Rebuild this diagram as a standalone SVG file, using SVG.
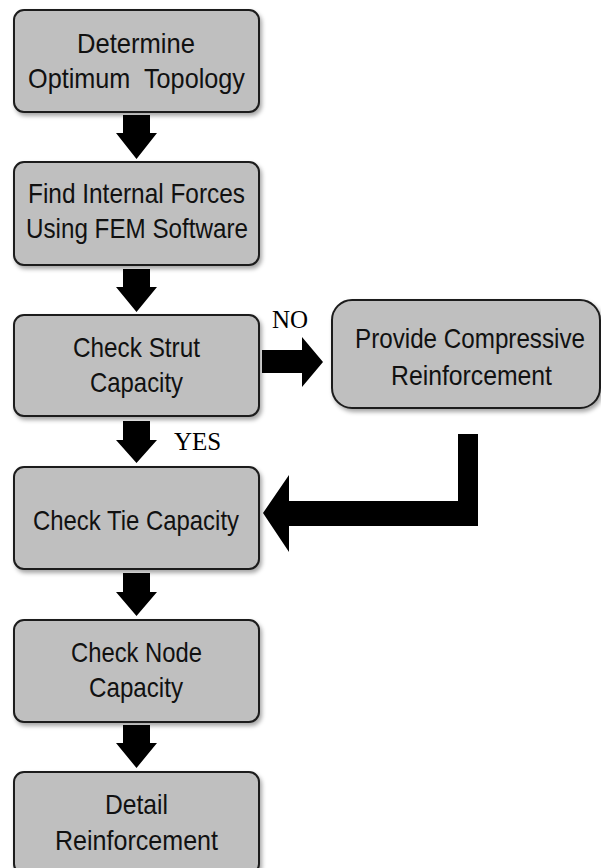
<svg xmlns="http://www.w3.org/2000/svg" width="601" height="868" viewBox="0 0 601 868">
  <defs>
    <filter id="sh" x="-10%" y="-10%" width="125%" height="130%">
      <feDropShadow dx="2" dy="3" stdDeviation="2" flood-color="#000" flood-opacity="0.35"/>
    </filter>
  </defs>
  <style>
    .box { fill: #bfbfbf; stroke: #1c1c1c; stroke-width: 2; filter: url(#sh); }
    .lbl { font-family: "Liberation Sans", Arial, sans-serif; font-size: 24.5px; fill: #111; white-space: pre; }
    .yn { font-family: "Liberation Serif", "Times New Roman", serif; font-size: 25px; fill: #000; }
    .arr { fill: #000; }
  </style>
  <rect width="601" height="868" fill="#fff"/>

  <g id="connectors">
    <polygon class="arr" points="123,115 150,115 150,133 157,133 136.5,159 116,133 123,133"/>
    <polygon class="arr" points="123,269 150,269 150,287 157,287 136.5,312 116,287 123,287"/>
    <polygon class="arr" points="123,421 150,421 150,440 157,440 136.5,463 116,440 123,440"/>
    <polygon class="arr" points="123,573 150,573 150,592 157,592 136.5,616 116,592 123,592"/>
    <polygon class="arr" points="123,725 150,725 150,743 157,743 136.5,768 116,743 123,743"/>
    <polygon class="arr" points="262,350 302,350 302,337 323,362 302,387 302,373 262,373"/>
    <polygon class="arr" points="458,434 478,434 478,526 289,526 289,552 263,513 289,475 289,501 458,501"/>
    <text class="yn" x="272" y="328">NO</text>
    <text class="yn" x="174" y="450">YES</text>
  </g>

  <g id="n1">
    <rect class="box" x="14" y="10" width="245" height="102" rx="10"/>
    <text class="lbl" transform="translate(77,53) scale(1,1.15)" textLength="118" lengthAdjust="spacingAndGlyphs">Determine</text>
    <text class="lbl" transform="translate(28,88) scale(1,1.15)" textLength="217" lengthAdjust="spacingAndGlyphs">Optimum  Topology</text>
  </g>
  <g id="n2">
    <rect class="box" x="14" y="162" width="245" height="103" rx="10"/>
    <text class="lbl" transform="translate(28,203) scale(1,1.15)" textLength="217" lengthAdjust="spacingAndGlyphs">Find Internal Forces</text>
    <text class="lbl" transform="translate(26,238) scale(1,1.15)" textLength="222" lengthAdjust="spacingAndGlyphs">Using FEM Software</text>
  </g>
  <g id="n3">
    <rect class="box" x="14" y="315" width="245" height="101" rx="10"/>
    <text class="lbl" transform="translate(73,357) scale(1,1.15)" textLength="127" lengthAdjust="spacingAndGlyphs">Check Strut</text>
    <text class="lbl" transform="translate(90,392) scale(1,1.15)" textLength="93" lengthAdjust="spacingAndGlyphs">Capacity</text>
  </g>
  <g id="n4">
    <rect class="box" x="332" y="300" width="268" height="108" rx="20"/>
    <text class="lbl" transform="translate(355,348) scale(1,1.15)" textLength="230" lengthAdjust="spacingAndGlyphs">Provide Compressive</text>
    <text class="lbl" transform="translate(391,385) scale(1,1.15)" textLength="161" lengthAdjust="spacingAndGlyphs">Reinforcement</text>
  </g>
  <g id="n5">
    <rect class="box" x="14" y="467" width="245" height="102" rx="10"/>
    <text class="lbl" transform="translate(33,530) scale(1,1.15)" textLength="206" lengthAdjust="spacingAndGlyphs">Check Tie Capacity</text>
  </g>
  <g id="n6">
    <rect class="box" x="14" y="620" width="245" height="102" rx="10"/>
    <text class="lbl" transform="translate(71,662) scale(1,1.15)" textLength="131" lengthAdjust="spacingAndGlyphs">Check Node</text>
    <text class="lbl" transform="translate(89,697) scale(1,1.15)" textLength="94" lengthAdjust="spacingAndGlyphs">Capacity</text>
  </g>
  <g id="n7">
    <rect class="box" x="14" y="772" width="245" height="102" rx="10"/>
    <text class="lbl" transform="translate(105,814) scale(1,1.15)" textLength="63" lengthAdjust="spacingAndGlyphs">Detail</text>
    <text class="lbl" transform="translate(55,850) scale(1,1.15)" textLength="163" lengthAdjust="spacingAndGlyphs">Reinforcement</text>
  </g>
</svg>
